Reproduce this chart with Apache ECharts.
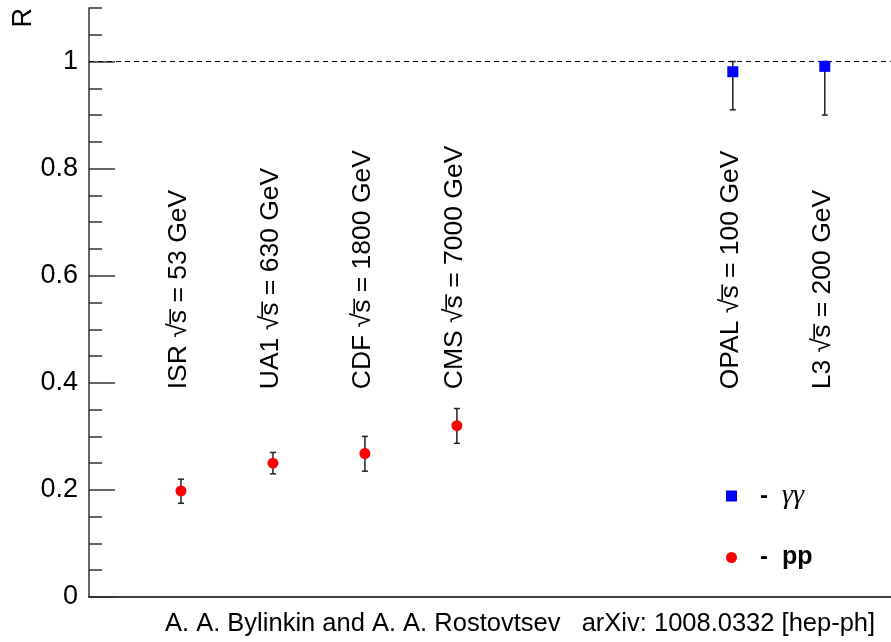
<!DOCTYPE html>
<html>
<head>
<meta charset="utf-8">
<script src="https://cdn.jsdelivr.net/npm/echarts@6/dist/echarts.min.js"></script>
<style>
html,body{margin:0;padding:0;background:#fff;}
#main{width:891px;height:642px;}
</style>
</head>
<body>
<div id="main"></div>
<script>
// ---- data ----
const ppExperiments = ['ISR', 'UA1', 'CDF', 'CMS'];
const ppEnergies = [53, 630, 1800, 7000];
const ppPositions = [1, 2, 3, 4];
const ppValues = [0.198, 0.250, 0.268, 0.320];
const ppLow = [0.175, 0.230, 0.235, 0.287];
const ppHigh = [0.220, 0.270, 0.300, 0.352];

const ggExperiments = ['OPAL', 'L3'];
const ggEnergies = [100, 200];
const ggPositions = [7, 8];
const ggValues = [0.981, 0.991];
const ggLow = [0.910, 0.900];
const ggHigh = [1.0, 1.0];

const yTickLabels = ['0', '0.2', '0.4', '0.6', '0.8', '1'];
const referenceLine = 1;

// ---- build ----
const FONT = 'Liberation Sans, Arial, Helvetica, sans-serif';
const LABEL_Y = 0.388;
const AXIS_COLOR = '#333';

function labelText(exp, e) { return exp + ' \u221As\u0305 = ' + e + ' GeV'; }

const labels = ppExperiments.map((n, i) => [ppPositions[i], LABEL_Y, labelText(n, ppEnergies[i])])
  .concat(ggExperiments.map((n, i) => [ggPositions[i], LABEL_Y, labelText(n, ggEnergies[i])]));

const errData = ppPositions.map((p, i) => [p, ppLow[i], ppHigh[i]])
  .concat(ggPositions.map((p, i) => [p, ggLow[i], ggHigh[i]]));

const chart = echarts.init(document.getElementById('main'), null, {renderer: 'canvas'});

const option = {
  animation: false,
  backgroundColor: '#fff',
  grid: {left: 89, right: 0, top: 8, bottom: 45},
  xAxis: [
    {type: 'value', min: 0, max: 8.72, position: 'bottom',
      axisLine: {show: true, lineStyle: {color: AXIS_COLOR, width: 1.5}},
      axisTick: {show: false}, axisLabel: {show: false}, splitLine: {show: false}},
    {type: 'value', min: 0, max: 8.72, position: 'top',
      axisLine: {show: true, lineStyle: {color: AXIS_COLOR, width: 1.5}},
      axisTick: {show: false}, axisLabel: {show: false}, splitLine: {show: false}}
  ],
  yAxis: [
    {type: 'value', min: 0, max: 1.1, interval: 0.2, position: 'left',
      axisLine: {show: true, lineStyle: {color: AXIS_COLOR, width: 1.5}},
      axisTick: {show: true, inside: true, length: 26, lineStyle: {color: AXIS_COLOR, width: 1.5}},
      axisLabel: {show: true, margin: 11, fontFamily: FONT, fontSize: 27, color: '#000',
        showMaxLabel: false,
        formatter: function (v) { const s = +v.toFixed(1); const idx = Math.round(s / 0.2); return yTickLabels[idx] !== undefined ? yTickLabels[idx] : ''; }},
      splitLine: {show: false}},
    {type: 'value', min: 0, max: 1.1, interval: 0.05, position: 'left', offset: 0,
      axisLine: {show: false},
      axisTick: {show: true, inside: true, length: 13, lineStyle: {color: AXIS_COLOR, width: 1.5}},
      axisLabel: {show: false}, splitLine: {show: false}}
  ],
  legend: {
    orient: 'vertical', left: 721, top: 477, padding: 5,
    itemWidth: 11, itemHeight: 11, itemGap: 35,
    data: [{name: 'γγ', icon: 'rect'}, {name: 'pp', icon: 'circle'}],
    formatter: function (name) {
      return name === 'pp' ? '{d|-}{pb|pp}' : '{d|-}{g|γγ}';
    },
    textStyle: {
      lineHeight: 24,
      rich: {
        d: {fontFamily: FONT, fontWeight: 'bold', fontSize: 24, color: '#000', padding: [0, 14, 0, 18]},
        pb: {fontFamily: FONT, fontWeight: 'bold', fontSize: 25, color: '#000'},
        g: {fontFamily: 'Liberation Serif, Times New Roman, serif', fontStyle: 'italic', fontSize: 28, color: '#000'}
      }
    }
  },
  graphic: [
    {type: 'text', left: 10, top: 8, rotation: Math.PI / 2,
      style: {text: 'R', font: '27px ' + FONT, fill: '#000'}},
    {type: 'text', left: 165, top: 611,
      style: {text: 'A. A. Bylinkin and A. A. Rostovtsev   arXiv: 1008.0332 [hep-ph]', font: '25.5px ' + FONT, fill: '#000'}}
  ],
  series: [
    {
      name: 'errors', type: 'custom', silent: true, z: 3,
      data: errData,
      renderItem: function (params, api) {
        const x = api.value(0);
        const lo = api.coord([x, api.value(1)]);
        const hi = api.coord([x, api.value(2)]);
        const cw = 3;
        const st = {stroke: '#222', lineWidth: 1.5};
        return {type: 'group', children: [
          {type: 'line', shape: {x1: lo[0], y1: lo[1], x2: hi[0], y2: hi[1]}, style: st},
          {type: 'line', shape: {x1: lo[0] - cw, y1: lo[1], x2: lo[0] + cw, y2: lo[1]}, style: st},
          {type: 'line', shape: {x1: hi[0] - cw, y1: hi[1], x2: hi[0] + cw, y2: hi[1]}, style: st}
        ]};
      }
    },
    {
      name: 'labels', type: 'custom', silent: true, z: 2,
      data: labels,
      renderItem: function (params, api) {
        const p = api.coord([api.value(0), api.value(1)]);
        return {type: 'text', x: p[0] - 2, y: p[1], rotation: Math.PI / 2,
          style: {text: labels[params.dataIndex][2], font: '26.5px ' + FONT, fill: '#000',
            textAlign: 'left', textVerticalAlign: 'middle'}};
      }
    },
    {
      name: 'γγ', type: 'scatter', symbol: 'rect', symbolSize: 11, z: 5,
      itemStyle: {color: '#0000ff', opacity: 1},
      data: ggPositions.map((p, i) => [p, ggValues[i]]),
      markLine: {
        silent: true, symbol: 'none', label: {show: false},
        lineStyle: {color: '#000', type: [5, 4], width: 1.2},
        data: [{yAxis: referenceLine}]
      }
    },
    {
      name: 'pp', type: 'scatter', symbol: 'circle', symbolSize: 11, z: 5,
      itemStyle: {color: '#ff0000', opacity: 1},
      data: ppPositions.map((p, i) => [p, ppValues[i]])
    }
  ]
};
chart.setOption(option);
</script>
</body>
</html>
